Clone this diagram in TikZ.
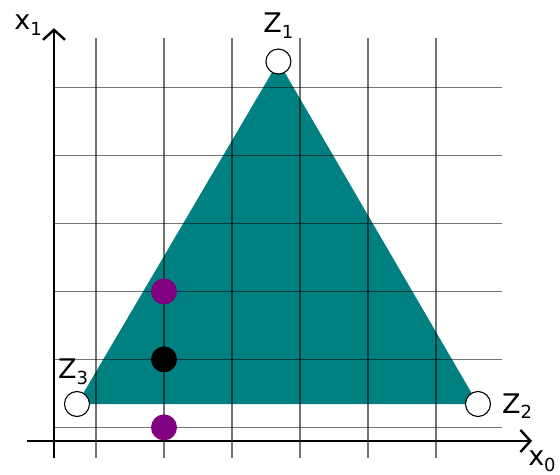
\documentclass[tikz,border=0pt]{standalone}
\usepackage{fontspec}
\setmainfont{DejaVu Sans}
\usetikzlibrary{arrows.meta, positioning}
\definecolor{cellfill}{RGB}{0,128,128}
\definecolor{probe}{RGB}{128,0,128}
\newcommand{\lowsub}[1]{\raisebox{-5.5pt}{\fontsize{18}{18}\selectfont #1}}

\begin{document}
\begin{tikzpicture}[x=68pt, y=68pt, >={Straight Barb[length=10pt, width=22pt]},
            vertex/.style={circle, draw, fill=white, line width=1.1pt, minimum size=25pt, inner sep=0pt},
            dot/.style={circle, minimum size=26pt, inner sep=0pt},
            lbl/.style={inner sep=0pt, font=\fontsize{27}{30}\selectfont},
            gridline/.style={black, opacity=0.55, line width=1.5pt}]
            \useasboundingbox (-0.794,-0.5) rectangle (7.441,6.485);

            \coordinate (p1) at (3.30,5.58);
            \coordinate (p2) at (6.235,0.544);
            \coordinate (p3) at (0.338,0.544);
            \fill[cellfill] (p1) -- (p2) -- (p3) -- cycle;

            \foreach \i in {0,...,5} {
                \draw[gridline] (0.618+\i,-0.25) -- (0.618+\i,5.93);
                \draw[gridline] (0,0.2+\i) -- (6.59,0.2+\i);
            }

            \coordinate (xtail) at (-0.40,0);
            \coordinate (xtip) at (7.03,0);
            \coordinate (ytail) at (0,-0.25);
            \coordinate (ytip) at (0,6.07);
            \draw[->, line width=2.4pt] (xtail) -- (xtip);
            \draw[->, line width=2.4pt] (ytail) -- (ytip);
            \node[lbl, below right=10pt and -4pt of xtip] (x0lab) {x\lowsub{0}};
            \node[lbl, left=12pt of ytip, yshift=3pt] (x1lab) {x\lowsub{1}};

            \node[dot, fill=probe] (upper) at (1.618,2.2) {};
            \node[dot, fill=black] (mid) at (1.618,1.2) {};
            \node[dot, fill=probe] (lower) at (1.618,0.2) {};

            \node[vertex] (z1) at (p1) {};
            \node[vertex] (z2) at (p2) {};
            \node[vertex] (z3) at (p3) {};
            \node[lbl, above=10pt of z1] (z1lab) {Z\lowsub{1}};
            \node[lbl, right=11pt of z2, yshift=-2pt] (z2lab) {Z\lowsub{2}};
            \node[lbl, above=6pt of z3, xshift=-4pt] (z3lab) {Z\lowsub{3}};
        \end{tikzpicture}
\end{document}
